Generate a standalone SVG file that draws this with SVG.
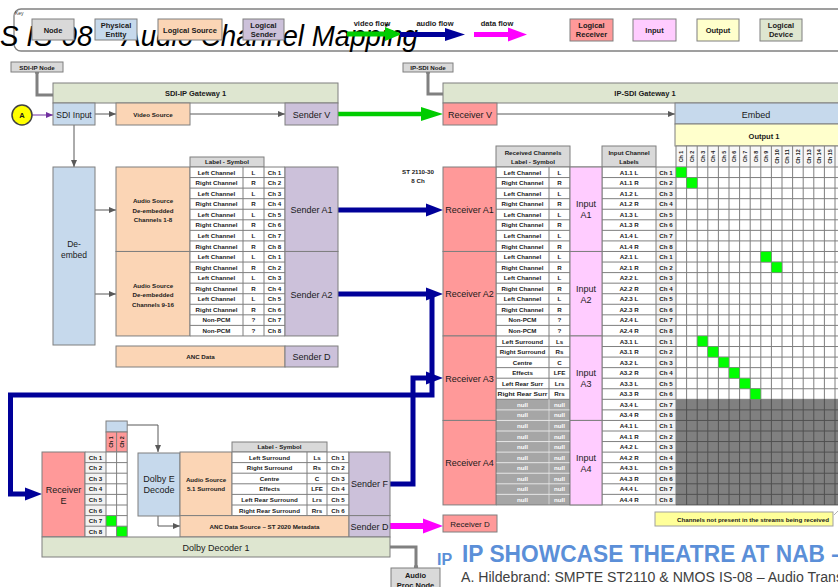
<svg xmlns="http://www.w3.org/2000/svg" width="838" height="587" viewBox="0 0 838 587">
<defs>
<style>
.s{stroke:#7f7f7f;stroke-width:1}
.node{fill:#d9d9d9}
.phys{fill:#c6d9ec}
.src{fill:#fbd5b5}
.snd{fill:#ccc1da}
.rcv{fill:#ff9999}
.inp{fill:#ffccff}
.out{fill:#ffffcc}
.dev{fill:#dee6d0}
.hdr{fill:#d9d9d9}
.lc{fill:#f2f2f2}
.t{font-family:"Liberation Sans",Arial,sans-serif;fill:#1a1a1a;text-anchor:middle}
.c{font-size:6.2px;font-weight:bold}
.r{font-size:5.4px;font-weight:bold}
.m{font-size:9px}
.k{font-size:7.5px;font-weight:bold}
.g{fill:#00ff00;stroke:#7f7f7f;stroke-width:0.5}
.ln{fill:none;stroke:#7f7f7f;stroke-width:1}
.thin{fill:none;stroke:#595959;stroke-width:1;marker-end:url(#ah)}
.blue{fill:none;stroke:#000099;stroke-width:5}
.conn{fill:none;stroke:#808080;stroke-width:3}
</style>
<marker id="ah" markerWidth="7" markerHeight="6" refX="7" refY="3" orient="auto" markerUnits="userSpaceOnUse"><path d="M0,0L7,3L0,6z" fill="#595959"/></marker>
<marker id="ap" markerWidth="7" markerHeight="6" refX="7" refY="3" orient="auto" markerUnits="userSpaceOnUse"><path d="M0,0L7,3L0,6z" fill="#7030a0"/></marker>
</defs>
<rect width="838" height="587" fill="#ffffff"/>

<!-- Legend / title -->
<g id="legend">
<rect x="14" y="9" width="840" height="42" rx="7" fill="none" stroke="#808080" stroke-width="1.3"/>
<text x="15" y="15" font-family="Liberation Sans,Arial,sans-serif" font-size="5" fill="#333">Key</text>
<text x="0" y="46" font-family="Liberation Sans,Arial,sans-serif" font-style="italic" font-size="30" fill="#000" textLength="418" lengthAdjust="spacingAndGlyphs">S IS-08 – Audio Channel Mapping</text>
<rect x="32" y="19" width="42" height="21" class="node s"/><text x="53" y="32.5" class="t k">Node</text>
<rect x="95" y="19" width="42" height="21" class="phys s"/><text x="116" y="27.5" class="t k">Physical</text><text x="116" y="37" class="t k">Entity</text>
<rect x="158" y="19" width="64" height="21" class="src s"/><text x="190" y="32.5" class="t k">Logical Source</text>
<rect x="243" y="19" width="41" height="21" class="snd s"/><text x="263.5" y="27.5" class="t k">Logical</text><text x="263.5" y="37" class="t k">Sender</text>
<text x="372" y="26" class="t k" font-weight="normal">video flow</text>
<line x1="347" y1="34" x2="388" y2="34" stroke="#00cc00" stroke-width="5"/><polygon points="385,27 402,34 385,41" fill="#00cc00"/>
<text x="435" y="26" class="t k" font-weight="normal">audio flow</text>
<line x1="400" y1="34.5" x2="448" y2="34.5" stroke="#000099" stroke-width="5"/><polygon points="445,28 465,34.5 445,41" fill="#000099"/>
<text x="497" y="26" class="t k" font-weight="normal">data flow</text>
<line x1="474" y1="34.5" x2="511" y2="34.5" stroke="#ff00ff" stroke-width="5"/><polygon points="508,27.5 527,34.5 508,41.5" fill="#ff00ff"/>
<rect x="570" y="19" width="43" height="22" class="rcv s"/><text x="591.5" y="27.5" class="t k">Logical</text><text x="591.5" y="37" class="t k">Receiver</text>
<rect x="633" y="19" width="43" height="22" class="inp s"/><text x="654.5" y="32.5" class="t k">Input</text>
<rect x="697" y="19" width="42" height="22" class="out s"/><text x="718" y="32.5" class="t k">Output</text>
<rect x="760" y="19" width="42" height="22" class="dev s"/><text x="781" y="27.5" class="t k">Logical</text><text x="781" y="37" class="t k">Device</text>
</g>

<!-- Connectors -->
<g id="connectors">
<path d="M37,72V95H53" class="conn"/><circle cx="37" cy="72" r="2.2" fill="#808080"/>
<path d="M428,72V94H443" class="conn"/><circle cx="428" cy="72" r="2.2" fill="#808080"/>
<path d="M390,547H416V568" class="conn"/><circle cx="416" cy="567" r="2.2" fill="#808080"/>
<line x1="32" y1="115" x2="53" y2="115" stroke="#7030a0" stroke-width="1" marker-end="url(#ap)"/>
<line x1="95" y1="114" x2="116" y2="114" class="thin"/>
<line x1="190" y1="114" x2="285" y2="114" class="thin"/>
<line x1="74" y1="125" x2="74" y2="167" class="thin"/>
<line x1="95" y1="210" x2="116" y2="210" class="thin"/>
<line x1="95" y1="294" x2="116" y2="294" class="thin"/>
<line x1="497" y1="114" x2="675" y2="114" class="thin"/>
<path d="M127,425H158V452" class="thin"/>
<path d="M158,516V526H180" class="thin"/>
<line x1="338" y1="114" x2="424" y2="114" stroke="#00cc00" stroke-width="4.5"/><polygon points="421,107 443,114 421,121" fill="#00cc00"/>
<line x1="338" y1="210" x2="428" y2="210" class="blue"/><polygon points="426,203.5 443,210 426,216.5" fill="#000099"/>
<line x1="338" y1="294" x2="428" y2="294" class="blue"/><polygon points="426,287.5 443,294 426,300.5" fill="#000099"/>
<path d="M432,294V395H10.5V494H28" class="blue"/><polygon points="25,487.5 42,494 25,500.5" fill="#000099"/>
<path d="M390,484H413V378H428" class="blue" stroke-width="4"/><polygon points="426,371.5 443,378 426,384.5" fill="#000099"/>
<line x1="390" y1="526" x2="425" y2="526" stroke="#ff00ff" stroke-width="6"/><polygon points="423,518.5 443,526 423,533.5" fill="#ff00ff"/>
</g>

<!-- SDI-IP side -->
<g id="sdi-ip-node"><rect x="11" y="62" width="52" height="10" class="node s"/><text x="37" y="69.5" class="t c">SDI-IP Node</text></g>
<g id="source-a"><circle cx="22" cy="115" r="10" fill="#ffff00" stroke="#404040" stroke-width="1.5"/><text x="22" y="118" class="t k">A</text></g>
<g id="sdi-ip-gateway"><rect x="53" y="83" width="285" height="20" class="dev s"/><text x="195.5" y="95.5" class="t k">SDI-IP Gateway 1</text></g>
<g id="sdi-input"><rect x="53" y="103" width="42" height="22" class="phys s"/><text x="74" y="117.5" class="t" font-size="8.5">SDI Input</text></g>
<g id="video-source"><rect x="116" y="103" width="74" height="22" class="src s"/><text x="153" y="116.5" class="t c">Video Source</text></g>
<g id="sender-v"><rect x="285" y="103" width="53" height="22" class="snd s"/><text x="311.5" y="117.5" class="t m">Sender V</text></g>
<g id="de-embed"><rect x="53" y="167" width="42" height="178" class="phys s"/><text x="74" y="247" class="t" font-size="8.5">De-</text><text x="74" y="258" class="t" font-size="8.5">embed</text></g>

<g id="audio-source-1"><rect x="116" y="167" width="74" height="84.48" class="src s"/><text x="153" y="203" class="t c">Audio Source</text><text x="153" y="212.5" class="t c">De-embedded</text><text x="153" y="222" class="t c">Channels 1-8</text></g>
<g id="audio-source-2"><rect x="116" y="251.48" width="74" height="84.48" class="src s"/><text x="153" y="287.5" class="t c">Audio Source</text><text x="153" y="297" class="t c">De-embedded</text><text x="153" y="306.5" class="t c">Channels 9-16</text></g>
<g id="left-table">
<rect x="190" y="157" width="74" height="10" class="hdr s"/><text x="227" y="164.3" class="t c">Label - Symbol</text>
<rect x="190" y="167" width="95" height="168.96" fill="#fff"/>
<path class="ln" d="M190,167H285M190,177.56H285M190,188.12H285M190,198.68H285M190,209.24H285M190,219.8H285M190,230.36H285M190,240.92H285M190,251.48H285M190,262.04H285M190,272.6H285M190,283.16H285M190,293.72H285M190,304.28H285M190,314.84H285M190,325.4H285M190,335.96H285M190,167V335.96M243,167V335.96M264,167V335.96M285,167V335.96"/>
<g class="t c" transform="translate(216.5,0)"><text y="174.6">Left Channel</text><text y="185.16">Right Channel</text><text y="195.72">Left Channel</text><text y="206.28">Right Channel</text><text y="216.84">Left Channel</text><text y="227.4">Right Channel</text><text y="237.96">Left Channel</text><text y="248.52">Right Channel</text><text y="259.08">Left Channel</text><text y="269.64">Right Channel</text><text y="280.2">Left Channel</text><text y="290.76">Right Channel</text><text y="301.32">Left Channel</text><text y="311.88">Right Channel</text><text y="322.44">Non-PCM</text><text y="333">Non-PCM</text></g>
<g class="t c" transform="translate(253.5,0)"><text y="174.6">L</text><text y="185.16">R</text><text y="195.72">L</text><text y="206.28">R</text><text y="216.84">L</text><text y="227.4">R</text><text y="237.96">L</text><text y="248.52">R</text><text y="259.08">L</text><text y="269.64">R</text><text y="280.2">L</text><text y="290.76">R</text><text y="301.32">L</text><text y="311.88">R</text><text y="322.44">?</text><text y="333">?</text></g>
<g class="t c" transform="translate(274.5,0)"><text y="174.6">Ch 1</text><text y="185.16">Ch 2</text><text y="195.72">Ch 3</text><text y="206.28">Ch 4</text><text y="216.84">Ch 5</text><text y="227.4">Ch 6</text><text y="237.96">Ch 7</text><text y="248.52">Ch 8</text><text y="259.08">Ch 1</text><text y="269.64">Ch 2</text><text y="280.2">Ch 3</text><text y="290.76">Ch 4</text><text y="301.32">Ch 5</text><text y="311.88">Ch 6</text><text y="322.44">Ch 7</text><text y="333">Ch 8</text></g>
</g>
<g id="sender-a1"><rect x="285" y="167" width="53" height="84.48" class="snd s"/><text x="311.5" y="213" class="t m">Sender A1</text></g>
<g id="sender-a2"><rect x="285" y="251.48" width="53" height="84.48" class="snd s"/><text x="311.5" y="297.5" class="t m">Sender A2</text></g>
<g id="anc-data"><rect x="116" y="346" width="169" height="21" class="src s"/><text x="200.5" y="358.8" class="t c">ANC Data</text></g>
<g id="sender-d1"><rect x="285" y="346" width="53" height="21" class="snd s"/><text x="311.5" y="360" class="t m">Sender D</text></g>

<!-- IP-SDI side -->
<g id="ip-sdi-node"><rect x="403" y="63" width="50" height="9" class="node s"/><text x="428" y="70" class="t c">IP-SDI Node</text></g>
<g id="ip-sdi-gateway"><rect x="443" y="83" width="400" height="20" class="dev s"/><text x="645" y="95.5" class="t k">IP-SDI Gateway 1</text></g>
<g id="receiver-v"><rect x="443" y="103" width="54" height="22" class="rcv s"/><text x="470" y="117.5" class="t m">Receiver V</text></g>
<g id="embed"><rect x="675" y="103" width="170" height="21" class="phys s"/><text x="756" y="117.5" class="t m">Embed</text></g>
<g id="output-1"><rect x="675" y="124" width="170" height="22" class="out s"/><text x="764" y="138.5" class="t k" font-size="8.5">Output 1</text></g>
<g id="st2110-label"><text x="418" y="174" class="t c">ST 2110-30</text><text x="418" y="183" class="t c">8 Ch</text></g>

<g id="mapping-table">
<rect x="496" y="146" width="74" height="21" class="hdr s"/><text x="533" y="154.5" class="t c">Received Channels</text><text x="533" y="163.5" class="t c">Label - Symbol</text>
<rect x="602" y="146" width="54" height="21" class="hdr s"/><text x="629" y="154.5" class="t c">Input Channel</text><text x="629" y="163.5" class="t c">Labels</text>
<rect x="676" y="146" width="170" height="21" fill="#f7f7f7"/>
<rect x="496" y="167" width="350" height="337.92" fill="#fff"/>
<rect x="656" y="167" width="20" height="337.92" class="lc"/>
<rect x="496" y="399.32" width="74" height="105.6" fill="#a6a6a6"/>
<rect x="676" y="399.32" width="170" height="105.6" fill="#808080"/>
<path class="ln" d="M496,167H846M496,177.56H846M496,188.12H846M496,198.68H846M496,209.24H846M496,219.8H846M496,230.36H846M496,240.92H846M496,251.48H846M496,262.04H846M496,272.6H846M496,283.16H846M496,293.72H846M496,304.28H846M496,314.84H846M496,325.4H846M496,335.96H846M496,346.52H846M496,357.08H846M496,367.64H846M496,378.2H846M496,388.76H846M496,399.32H846M676,146H846M496,167V504.92M549,167V504.92M570,167V504.92M602,167V504.92M656,167V504.92M676,146V504.92M686.6,146V399M697.2,146V399M707.8,146V399M718.4,146V399M729,146V399M739.6,146V399M750.2,146V399M760.8,146V399M771.4,146V399M782,146V399M792.6,146V399M803.2,146V399M813.8,146V399M824.4,146V399M835,146V399"/>
<path fill="none" stroke="#e6e6e6" stroke-width="1" d="M496,409.88H570M496,420.44H570M496,431H570M496,441.56H570M496,452.12H570M496,462.68H570M496,473.24H570M496,483.8H570M496,494.36H570M549,399.32V504.92"/>
<path class="ln" d="M570,409.88H676M570,420.44H676M570,431H676M570,441.56H676M570,452.12H676M570,462.68H676M570,473.24H676M570,483.8H676M570,494.36H676M496,504.92H676"/>
<path fill="none" stroke="#505050" stroke-width="1" d="M676,409.88H846M676,420.44H846M676,431H846M676,441.56H846M676,452.12H846M676,462.68H846M676,473.24H846M676,483.8H846M676,494.36H846M676,504.92H846M686.6,399V505M697.2,399V505M707.8,399V505M718.4,399V505M729,399V505M739.6,399V505M750.2,399V505M760.8,399V505M771.4,399V505M782,399V505M792.6,399V505M803.2,399V505M813.8,399V505M824.4,399V505M835,399V505"/>
<rect x="676" y="167" width="10.6" height="10.56" class="g"/>
<rect x="686.6" y="177.56" width="10.6" height="10.56" class="g"/>
<rect x="760.8" y="251.48" width="10.6" height="10.56" class="g"/>
<rect x="771.4" y="262.04" width="10.6" height="10.56" class="g"/>
<rect x="697.2" y="335.96" width="10.6" height="10.56" class="g"/>
<rect x="707.8" y="346.52" width="10.6" height="10.56" class="g"/>
<rect x="718.4" y="357.08" width="10.6" height="10.56" class="g"/>
<rect x="729" y="367.64" width="10.6" height="10.56" class="g"/>
<rect x="739.6" y="378.2" width="10.6" height="10.56" class="g"/>
<rect x="750.2" y="388.76" width="10.6" height="10.56" class="g"/>
<g class="t r"><text transform="translate(681.3,156.5) rotate(-90)" dy="2">Ch 1</text><text transform="translate(691.9,156.5) rotate(-90)" dy="2">Ch 2</text><text transform="translate(702.5,156.5) rotate(-90)" dy="2">Ch 3</text><text transform="translate(713.1,156.5) rotate(-90)" dy="2">Ch 4</text><text transform="translate(723.7,156.5) rotate(-90)" dy="2">Ch 5</text><text transform="translate(734.3,156.5) rotate(-90)" dy="2">Ch 6</text><text transform="translate(744.9,156.5) rotate(-90)" dy="2">Ch 7</text><text transform="translate(755.5,156.5) rotate(-90)" dy="2">Ch 8</text><text transform="translate(766.1,156.5) rotate(-90)" dy="2">Ch 9</text><text transform="translate(776.7,156.5) rotate(-90)" dy="2">Ch 10</text><text transform="translate(787.3,156.5) rotate(-90)" dy="2">Ch 11</text><text transform="translate(797.9,156.5) rotate(-90)" dy="2">Ch 12</text><text transform="translate(808.5,156.5) rotate(-90)" dy="2">Ch 13</text><text transform="translate(819.1,156.5) rotate(-90)" dy="2">Ch 14</text><text transform="translate(829.7,156.5) rotate(-90)" dy="2">Ch 15</text></g>
<g class="t c" transform="translate(522.5,0)"><text y="174.6">Left Channel</text><text y="185.16">Right Channel</text><text y="195.72">Left Channel</text><text y="206.28">Right Channel</text><text y="216.84">Left Channel</text><text y="227.4">Right Channel</text><text y="237.96">Left Channel</text><text y="248.52">Right Channel</text><text y="259.08">Left Channel</text><text y="269.64">Right Channel</text><text y="280.2">Left Channel</text><text y="290.76">Right Channel</text><text y="301.32">Left Channel</text><text y="311.88">Right Channel</text><text y="322.44">Non-PCM</text><text y="333">Non-PCM</text><text y="343.56">Left Surround</text><text y="354.12">Right Surround</text><text y="364.68">Centre</text><text y="375.24">Effects</text><text y="385.8">Left Rear Surr</text><text y="396.36" textLength="50" lengthAdjust="spacingAndGlyphs">Right Rear Surr</text></g>
<g class="t c" transform="translate(522.5,0)" style="fill:#ffffff"><text y="406.92">null</text><text y="417.48">null</text><text y="428.04">null</text><text y="438.6">null</text><text y="449.16">null</text><text y="459.72">null</text><text y="470.28">null</text><text y="480.84">null</text><text y="491.4">null</text><text y="501.96">null</text></g>
<g class="t c" transform="translate(559.5,0)"><text y="174.6">L</text><text y="185.16">R</text><text y="195.72">L</text><text y="206.28">R</text><text y="216.84">L</text><text y="227.4">R</text><text y="237.96">L</text><text y="248.52">R</text><text y="259.08">L</text><text y="269.64">R</text><text y="280.2">L</text><text y="290.76">R</text><text y="301.32">L</text><text y="311.88">R</text><text y="322.44">?</text><text y="333">?</text><text y="343.56">Ls</text><text y="354.12">Rs</text><text y="364.68">C</text><text y="375.24">LFE</text><text y="385.8">Lrs</text><text y="396.36">Rrs</text></g>
<g class="t c" transform="translate(559.5,0)" style="fill:#ffffff"><text y="406.92">null</text><text y="417.48">null</text><text y="428.04">null</text><text y="438.6">null</text><text y="449.16">null</text><text y="459.72">null</text><text y="470.28">null</text><text y="480.84">null</text><text y="491.4">null</text><text y="501.96">null</text></g>
<g class="t c" transform="translate(629,0)"><text y="174.6">A1.1 L</text><text y="185.16">A1.1 R</text><text y="195.72">A1.2 L</text><text y="206.28">A1.2 R</text><text y="216.84">A1.3 L</text><text y="227.4">A1.3 R</text><text y="237.96">A1.4 L</text><text y="248.52">A1.4 R</text><text y="259.08">A2.1 L</text><text y="269.64">A2.1 R</text><text y="280.2">A2.2 L</text><text y="290.76">A2.2 R</text><text y="301.32">A2.3 L</text><text y="311.88">A2.3 R</text><text y="322.44">A2.4 L</text><text y="333">A2.4 R</text><text y="343.56">A3.1 L</text><text y="354.12">A3.1 R</text><text y="364.68">A3.2 L</text><text y="375.24">A3.2 R</text><text y="385.8">A3.3 L</text><text y="396.36">A3.3 R</text><text y="406.92">A3.4 L</text><text y="417.48">A3.4 R</text><text y="428.04">A4.1 L</text><text y="438.6">A4.1 R</text><text y="449.16">A4.2 L</text><text y="459.72">A4.2 R</text><text y="470.28">A4.3 L</text><text y="480.84">A4.3 R</text><text y="491.4">A4.4 L</text><text y="501.96">A4.4 R</text></g>
<g class="t c" transform="translate(666,0)"><text y="174.6">Ch 1</text><text y="185.16">Ch 2</text><text y="195.72">Ch 3</text><text y="206.28">Ch 4</text><text y="216.84">Ch 5</text><text y="227.4">Ch 6</text><text y="237.96">Ch 7</text><text y="248.52">Ch 8</text><text y="259.08">Ch 1</text><text y="269.64">Ch 2</text><text y="280.2">Ch 3</text><text y="290.76">Ch 4</text><text y="301.32">Ch 5</text><text y="311.88">Ch 6</text><text y="322.44">Ch 7</text><text y="333">Ch 8</text><text y="343.56">Ch 1</text><text y="354.12">Ch 2</text><text y="364.68">Ch 3</text><text y="375.24">Ch 4</text><text y="385.8">Ch 5</text><text y="396.36">Ch 6</text><text y="406.92">Ch 7</text><text y="417.48">Ch 8</text><text y="428.04">Ch 1</text><text y="438.6">Ch 2</text><text y="449.16">Ch 3</text><text y="459.72">Ch 4</text><text y="470.28">Ch 5</text><text y="480.84">Ch 6</text><text y="491.4">Ch 7</text><text y="501.96">Ch 8</text></g>
</g>
<g id="receiver-a1"><rect x="443" y="167" width="53" height="84.48" class="rcv s"/><text x="469.5" y="212.5" class="t m">Receiver A1</text></g>
<g id="receiver-a2"><rect x="443" y="251.48" width="53" height="84.48" class="rcv s"/><text x="469.5" y="297" class="t m">Receiver A2</text></g>
<g id="receiver-a3"><rect x="443" y="335.96" width="53" height="84.48" class="rcv s"/><text x="469.5" y="381.5" class="t m">Receiver A3</text></g>
<g id="receiver-a4"><rect x="443" y="420.44" width="53" height="84.48" class="rcv s"/><text x="469.5" y="466" class="t m">Receiver A4</text></g>
<g id="input-a1"><rect x="570" y="167" width="32" height="84.48" class="inp s"/><text x="586" y="207" class="t m">Input</text><text x="586" y="218" class="t m">A1</text></g>
<g id="input-a2"><rect x="570" y="251.48" width="32" height="84.48" class="inp s"/><text x="586" y="291.5" class="t m">Input</text><text x="586" y="302.5" class="t m">A2</text></g>
<g id="input-a3"><rect x="570" y="335.96" width="32" height="84.48" class="inp s"/><text x="586" y="376" class="t m">Input</text><text x="586" y="387" class="t m">A3</text></g>
<g id="input-a4"><rect x="570" y="420.44" width="32" height="84.48" class="inp s"/><text x="586" y="460.5" class="t m">Input</text><text x="586" y="471.5" class="t m">A4</text></g>
<g id="note"><rect x="655" y="512" width="178" height="14" fill="#ffff99" stroke="#a0a0a0" stroke-width="1"/><text x="829" y="521.5" class="t c" style="text-anchor:end" textLength="152" lengthAdjust="spacingAndGlyphs">Channels not present in the streams being received</text><line x1="834" y1="515" x2="838" y2="511" stroke="#a0a0a0" stroke-width="0.8"/></g>
<g id="receiver-d"><rect x="443" y="515" width="54" height="17" class="rcv s"/><text x="470" y="527" class="t" font-size="8">Receiver D</text></g>

<!-- Dolby decoder -->
<g id="receiver-e">
<rect x="106" y="421" width="21.2" height="11" class="phys s"/>
<rect x="106" y="432" width="21.2" height="20" class="rcv s"/>
<line x1="116.6" y1="432" x2="116.6" y2="452" class="ln"/>
<g class="t r"><text transform="translate(111.3,442) rotate(-90)" dy="2">Ch 1</text><text transform="translate(121.9,442) rotate(-90)" dy="2">Ch 2</text></g>
<rect x="42" y="452" width="43" height="84.8" class="rcv s"/><text x="63.5" y="492.5" class="t m">Receiver</text><text x="63.5" y="503.5" class="t m">E</text>
<rect x="85" y="452" width="21" height="84.8" class="lc"/>
<rect x="106" y="452" width="21.2" height="84.8" fill="#fff"/>
<rect x="106" y="515.6" width="10.6" height="10.6" fill="#00ff00"/>
<rect x="116.6" y="526.2" width="10.6" height="10.6" fill="#00ff00"/>
<path class="ln" d="M85,452H127.2M85,462.6H127.2M85,473.2H127.2M85,483.8H127.2M85,494.4H127.2M85,505H127.2M85,515.6H127.2M85,526.2H127.2M85,536.8H127.2M85,452V536.8M106,452V536.8M116.6,452V536.8M127.2,452V536.8"/>
<g class="t c" transform="translate(95.5,0)"><text y="459.6">Ch 1</text><text y="470.2">Ch 2</text><text y="480.8">Ch 3</text><text y="491.4">Ch 4</text><text y="502">Ch 5</text><text y="512.6">Ch 6</text><text y="523.2">Ch 7</text><text y="533.8">Ch 8</text></g>
</g>
<g id="dolby-e-decode"><rect x="138" y="453" width="42" height="63" class="phys s"/><text x="159" y="482" class="t m">Dolby E</text><text x="159" y="493" class="t m">Decode</text></g>
<g id="audio-source-51"><rect x="180" y="452" width="52" height="63.6" class="src s"/><text x="206" y="482" class="t c">Audio Source</text><text x="206" y="491" class="t c">5.1 Surround</text></g>
<g id="dolby-table">
<rect x="232" y="442" width="95" height="10" class="hdr s"/><text x="279.5" y="449.3" class="t c">Label - Symbol</text>
<rect x="232" y="452" width="117" height="63.6" fill="#fff"/>
<path class="ln" d="M232,452H349M232,462.6H349M232,473.2H349M232,483.8H349M232,494.4H349M232,505H349M232,515.6H349M232,452V515.6M307,452V515.6M327,452V515.6M349,452V515.6"/>
<g class="t c" transform="translate(269.5,0)"><text y="459.6">Left Surround</text><text y="470.2">Right Surround</text><text y="480.8">Centre</text><text y="491.4">Effects</text><text y="502">Left Rear Surround</text><text y="512.6">Right Rear Surround</text></g>
<g class="t c" transform="translate(317,0)"><text y="459.6">Ls</text><text y="470.2">Rs</text><text y="480.8">C</text><text y="491.4">LFE</text><text y="502">Lrs</text><text y="512.6">Rrs</text></g>
<g class="t c" transform="translate(338,0)"><text y="459.6">Ch 1</text><text y="470.2">Ch 2</text><text y="480.8">Ch 3</text><text y="491.4">Ch 4</text><text y="502">Ch 5</text><text y="512.6">Ch 6</text></g>
</g>
<g id="sender-f"><rect x="349" y="452" width="41" height="63.6" class="snd s"/><text x="369.5" y="487" class="t m">Sender F</text></g>
<g id="anc-data-source"><rect x="180" y="515.6" width="169" height="21.4" class="src s"/><text x="264.5" y="528.8" class="t c">ANC Data Source – ST 2020 Metadata</text></g>
<g id="sender-d2"><rect x="349" y="515.6" width="41" height="21.4" class="snd s"/><text x="369.5" y="529.5" class="t m">Sender D</text></g>
<g id="dolby-decoder"><rect x="42" y="537" width="348" height="20" class="dev s"/><text x="216" y="550.5" class="t m">Dolby Decoder 1</text></g>
<g id="audio-proc-node"><rect x="391" y="568" width="49" height="25" class="node s"/><text x="415.5" y="577.5" class="t k" font-size="8">Audio</text><text x="415.5" y="587.5" class="t k" font-size="8">Proc Node</text></g>

<!-- Footer -->
<g id="footer">
<text x="437" y="565" font-family="Liberation Sans,Arial,sans-serif" font-weight="bold" font-size="16" fill="#5b8fd8">IP</text>
<text x="462" y="562" font-family="Liberation Sans,Arial,sans-serif" font-weight="bold" font-size="23" fill="#5b8fd8" textLength="382" lengthAdjust="spacingAndGlyphs">IP SHOWCASE THEATRE AT NAB –</text>
<text x="461" y="582" font-family="Liberation Sans,Arial,sans-serif" font-size="14" fill="#404040" textLength="382" lengthAdjust="spacingAndGlyphs">A. Hildebrand: SMPTE ST2110 &amp; NMOS IS-08 – Audio Trans</text>
</g>
</svg>
